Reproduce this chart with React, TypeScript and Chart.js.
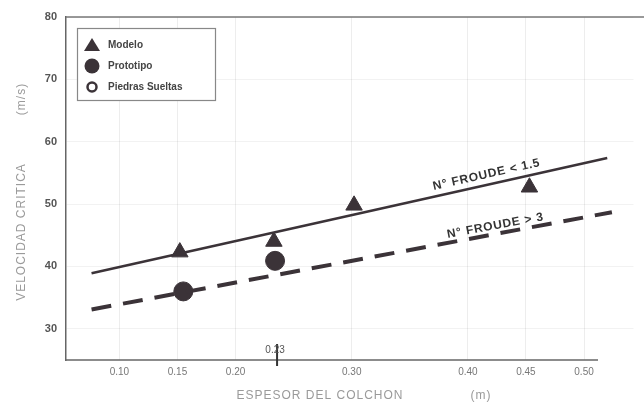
import React, { useEffect, useRef } from "react";
import { Chart, registerables } from "chart.js";

Chart.register(...registerables);

// ---- data ----
const X_TICKS = [0.1, 0.15, 0.2, 0.3, 0.4, 0.45, 0.5];
const Y_TICKS = [30, 40, 50, 60, 70, 80];

const modeloX = [0.152, 0.233, 0.302, 0.453];
const modeloY = [42.3, 44.0, 49.8, 52.7];

const prototipoX = [0.155, 0.234];
const prototipoY = [36.0, 40.9];

const froude15X = [0.076, 0.52];
const froude15Y = [38.9, 57.4];

const froude3X = [0.076, 0.524];
const froude3Y = [33.1, 48.7];

const LEGEND_LABELS = ["Modelo", "Prototipo", "Piedras Sueltas"];
const LINE_LABELS = ["N° FROUDE < 1.5", "N° FROUDE > 3"];
const MARK_LABEL = "0.23";
const MARK_X = 0.234;
const X_TITLE = "ESPESOR DEL COLCHON";
const X_UNIT = "(m)";
const Y_TITLE = "VELOCIDAD CRITICA";
const Y_UNIT = "(m/s)";

const INK = "#3b3338";
const FONT = "'Liberation Sans', Arial, sans-serif";

const pts = (xs: number[], ys: number[]) => xs.map((x, i) => ({ x, y: ys[i] }));

const decorPlugin = {
  id: "decor",
  afterDatasetsDraw(chart: any) {
    const ctx = chart.ctx as CanvasRenderingContext2D;
    const xs = chart.scales.x;
    const ys = chart.scales.y;
    const ca = chart.chartArea;
    ctx.save();

    // frame: top line, bottom axis line
    ctx.strokeStyle = "#777";
    ctx.lineWidth = 1.5;
    ctx.beginPath();
    ctx.moveTo(ca.left, ca.top);
    ctx.lineTo(chart.width, ca.top);
    ctx.stroke();
    ctx.strokeStyle = "#666";
    ctx.beginPath();
    ctx.moveTo(ca.left, ca.bottom);
    ctx.lineTo(xs.getPixelForValue(0.5) + 14, ca.bottom);
    ctx.stroke();

    // small marker on x axis
    const mx = xs.getPixelForValue(MARK_X);
    ctx.strokeStyle = "#333";
    ctx.lineWidth = 2;
    ctx.beginPath();
    ctx.moveTo(mx + 2, ca.bottom - 16);
    ctx.lineTo(mx + 2, ca.bottom + 6);
    ctx.stroke();
    ctx.fillStyle = "#555";
    ctx.font = `10px ${FONT}`;
    ctx.textAlign = "center";
    ctx.textBaseline = "middle";
    ctx.fillText(MARK_LABEL, mx, ca.bottom - 10);

    // line labels
    const lineLabel = (xArr: number[], yArr: number[], atX: number, text: string, off: number) => {
      const x0 = xs.getPixelForValue(xArr[0]);
      const y0 = ys.getPixelForValue(yArr[0]);
      const x1 = xs.getPixelForValue(xArr[1]);
      const y1 = ys.getPixelForValue(yArr[1]);
      const ang = Math.atan2(y1 - y0, x1 - x0);
      const px = xs.getPixelForValue(atX);
      const py = y0 + ((px - x0) * (y1 - y0)) / (x1 - x0);
      ctx.save();
      ctx.translate(px, py);
      ctx.rotate(ang);
      ctx.fillStyle = "#333";
      ctx.font = `bold 12px ${FONT}`;
      (ctx as any).letterSpacing = "0.8px";
      ctx.textAlign = "center";
      ctx.textBaseline = "bottom";
      ctx.fillText(text, 0, -off);
      (ctx as any).letterSpacing = "0px";
      ctx.restore();
    };
    lineLabel(froude15X, froude15Y, 0.418, LINE_LABELS[0], 4);
    lineLabel(froude3X, froude3Y, 0.425, LINE_LABELS[1], 2);

    // axis titles
    ctx.fillStyle = "#9a9a9a";
    ctx.font = `12px ${FONT}`;
    (ctx as any).letterSpacing = "1px";
    ctx.textAlign = "center";
    ctx.textBaseline = "middle";
    ctx.fillText(X_TITLE, 320, 396);
    ctx.fillText(X_UNIT, 481, 396);
    ctx.save();
    ctx.translate(22, 232);
    ctx.rotate(-Math.PI / 2);
    ctx.fillText(Y_TITLE, 0, 0);
    ctx.restore();
    ctx.save();
    ctx.translate(22, 99);
    ctx.rotate(-Math.PI / 2);
    ctx.fillText(Y_UNIT, 0, 0);
    ctx.restore();
    (ctx as any).letterSpacing = "0px";

    // legend box
    const bx = ca.left + 11;
    const by = ca.top + 11;
    ctx.fillStyle = "#fff";
    ctx.fillRect(bx, by, 138, 72);
    ctx.strokeStyle = "#888";
    ctx.lineWidth = 1.2;
    ctx.strokeRect(bx + 0.5, by + 0.5, 138, 72);
    const items = chart.data.datasets.filter((d: any) => d.inLegend);
    items.forEach((d: any, i: number) => {
      const cy = by + 17 + i * 21;
      const cx = bx + 15;
      ctx.fillStyle = INK;
      ctx.strokeStyle = INK;
      if (d.pointStyle === "triangle") {
        ctx.beginPath();
        ctx.moveTo(cx, cy - 7);
        ctx.lineTo(cx + 8, cy + 6);
        ctx.lineTo(cx - 8, cy + 6);
        ctx.closePath();
        ctx.fill();
      } else if (d.hollow) {
        ctx.lineWidth = 2.5;
        ctx.beginPath();
        ctx.arc(cx, cy, 4.5, 0, Math.PI * 2);
        ctx.stroke();
      } else {
        ctx.beginPath();
        ctx.arc(cx, cy, 7.5, 0, Math.PI * 2);
        ctx.fill();
      }
      ctx.fillStyle = "#444";
      ctx.font = `bold 10px ${FONT}`;
      ctx.textAlign = "left";
      ctx.textBaseline = "middle";
      ctx.fillText(d.label, bx + 31, cy);
    });
    ctx.restore();
  },
};

export default function App() {
  const ref = useRef<HTMLCanvasElement>(null);
  useEffect(() => {
    document.body.style.margin = "0";
    const chart = new Chart(ref.current!, {
      type: "scatter",
      data: {
        datasets: [
          {
            label: "froude15",
            data: pts(froude15X, froude15Y),
            showLine: true,
            borderColor: INK,
            borderWidth: 2.5,
            pointRadius: 0,
          } as any,
          {
            label: "froude3",
            data: pts(froude3X, froude3Y),
            showLine: true,
            borderColor: INK,
            borderWidth: 4,
            borderDash: [20, 12],
            pointRadius: 0,
          } as any,
          {
            label: LEGEND_LABELS[0],
            data: pts(modeloX, modeloY),
            pointStyle: "triangle",
            pointRadius: 9.5,
            backgroundColor: INK,
            borderColor: INK,
            inLegend: true,
          } as any,
          {
            label: LEGEND_LABELS[1],
            data: pts(prototipoX, prototipoY),
            pointStyle: "circle",
            pointRadius: 9.5,
            backgroundColor: INK,
            borderColor: INK,
            inLegend: true,
          } as any,
          {
            label: LEGEND_LABELS[2],
            data: [],
            pointStyle: "circle",
            pointRadius: 5,
            backgroundColor: "#fff",
            borderColor: INK,
            borderWidth: 2.5,
            inLegend: true,
            hollow: true,
          } as any,
        ],
      },
      options: {
        responsive: false,
        animation: false,
        layout: { padding: { top: 17, right: 4, left: 0, bottom: 0 } },
        plugins: { legend: { display: false }, tooltip: { enabled: false } },
        scales: {
          x: {
            type: "linear",
            min: 0.054,
            max: 0.5426,
            afterFit: (s: any) => {
              s.height = 52;
            },
            afterBuildTicks: (s: any) => {
              s.ticks = X_TICKS.map((v) => ({ value: v }));
            },
            ticks: {
              padding: 6,
              color: "#777",
              font: { family: FONT, size: 10 },
              callback: (v: any) => Number(v).toFixed(2),
            },
            grid: { color: "rgba(0,0,0,0.07)", drawTicks: false },
            border: { display: false },
          },
          y: {
            min: 25,
            max: 80,
            afterFit: (s: any) => {
              s.width = 66;
            },
            afterBuildTicks: (s: any) => {
              s.ticks = Y_TICKS.map((v) => ({ value: v }));
            },
            ticks: {
              padding: 9,
              color: "#555",
              font: { family: FONT, size: 11, weight: "bold" },
            },
            grid: { color: "rgba(0,0,0,0.05)", drawTicks: false },
            border: { display: true, color: "#666", width: 1.5 },
          },
        },
      },
      plugins: [decorPlugin],
    });
    return () => chart.destroy();
  }, []);
  return <canvas ref={ref} width={644} height={412} style={{ display: "block" }} />;
}
